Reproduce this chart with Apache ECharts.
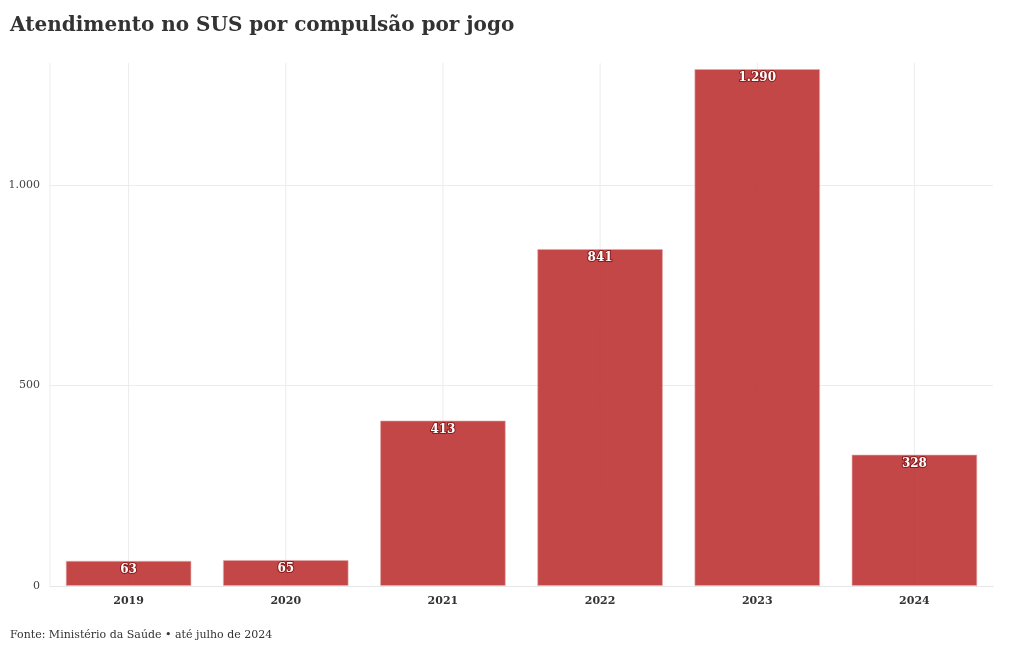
<!DOCTYPE html>
<html><head><meta charset="utf-8">
<script src="https://cdn.jsdelivr.net/npm/echarts@6/dist/echarts.min.js"></script>
<style>html,body{margin:0;padding:0;background:#fff}#c{width:1020px;height:650px}</style>
</head><body><div id="c"></div>
<script>
const categories = ['2019','2020','2021','2022','2023','2024'];
const values = [63, 65, 413, 841, 1290, 328];
const yTicks = [0, 500, 1000];
const titleText = 'Atendimento no SUS por compulsão por jogo';
const sourceText = 'Fonte: Ministério da Saúde • até julho de 2024';

const FONT = '"DejaVu Serif", "Liberation Serif", serif';
const fmt = v => String(v).replace(/\B(?=(\d{3})+(?!\d))/g, '.');
const chart = echarts.init(document.getElementById('c'));
chart.setOption({
  animation: false,
  textStyle: {fontFamily: FONT},
  title: [{text: titleText, left: 5, top: 11, textStyle: {fontFamily: FONT, fontSize: 20, fontWeight: 'bold', color: '#333'}},
          {text: sourceText, left: 5, top: 625, textStyle: {fontFamily: FONT, fontSize: 11, fontWeight: 'normal', color: '#333'}}],
  grid: {left: 50, right: 27, top: 65, bottom: 64},
  xAxis: {type: 'category', data: categories,
    axisLine: {show: true, lineStyle: {color: '#e6e6e6'}}, axisTick: {show: false},
    axisLabel: {fontFamily: FONT, fontSize: 11, fontWeight: 'bold', color: '#333', margin: 10},
    splitLine: {show: false}},
  yAxis: {type: 'value', min: 0, max: 1300, interval: 500,
    axisLine: {show: false}, axisTick: {show: false},
    axisLabel: {fontFamily: FONT, fontSize: 11, color: '#444', margin: 10, formatter: v => yTicks.includes(v) ? fmt(v) : ''},
    splitLine: {lineStyle: {color: ['#ececec', '#ececec', '#ececec', 'rgba(0,0,0,0)']}}},
  series: [
    {type: 'bar', data: values, barCategoryGap: '20%',
     itemStyle: {color: 'rgba(190,55,55,0.92)', borderColor: 'rgba(230,170,170,0.6)', borderWidth: 1},
     label: {show: true, position: 'insideTop', distance: 3, formatter: p => fmt(p.value),
       fontFamily: FONT, fontSize: 12, fontWeight: 'bold', color: '#fff', textBorderColor: '#8a1c1c', textBorderWidth: 2}}
  ]
});
// vertical grid lines at category centers and left edge
const grid = chart.getModel().getComponent('grid').coordinateSystem.getRect();
const xs = [grid.x].concat(categories.map(c => chart.convertToPixel({xAxisIndex:0}, c)));
chart.setOption({graphic: xs.map(x => ({type: 'line', z: -1, silent: true,
  shape: {x1: x, y1: grid.y - 2, x2: x, y2: grid.y + grid.height}, style: {stroke: '#ececec', lineWidth: 1}}))});
</script></body></html>
